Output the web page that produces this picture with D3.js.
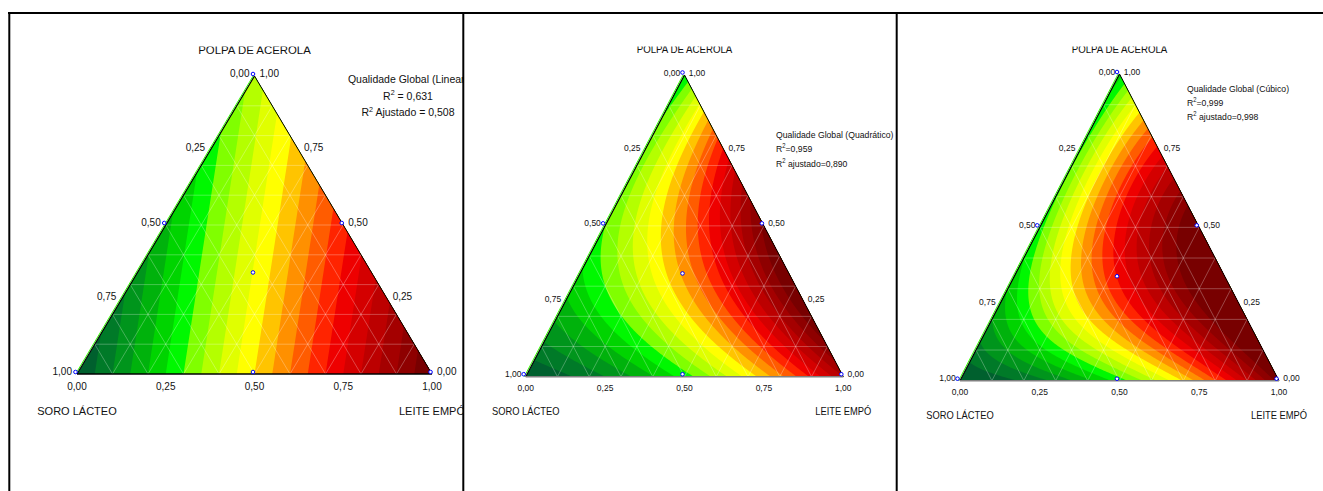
<!DOCTYPE html>
<html>
<head>
<meta charset="utf-8">
<script src="https://cdn.jsdelivr.net/npm/d3@7"></script>
<style>
html, body { margin: 0; padding: 0; background: #fff; }
svg { display: block; font-family: "Liberation Sans", Arial, sans-serif; }
</style>
</head>
<body>
<div id="chart"></div>
<script>
(function() {
'use strict';

const W = 1323;
const H = 491;

// mixture components: S (bottom-left), L (bottom-right), P (top)
const componentNames = ["SORO LÁCTEO", "LEITE EMPÓ", "POLPA DE ACEROLA"];
const tickValues = [0, 0.25, 0.5, 0.75, 1];
const tickLabels = ["0,00", "0,25", "0,50", "0,75", "1,00"];

// design points (soro, leite, polpa)
const designSoro  = [1, 0, 0, 0.5, 0.5, 0, 0.333];
const designLeite = [0, 1, 0, 0.5, 0, 0.5, 0.333];
const designPolpa = [0, 0, 1, 0, 0.5, 0.5, 0.334];

// Scheffé coefficients (in colour-band units): S, L, P, SL, SP, LP, SLP
const coefLinear    = [0, 20, 7.4, 0, 0, 0, 0];
const coefQuadratic = [0, 17, 5, -12, 14, 33, 0];
const coefCubic     = [0, 19.5, 4.5, -17, 13, 33, 80];

const modelNames  = ["Qualidade Global (Linear)", "Qualidade Global (Quadrático)", "Qualidade Global (Cúbico)"];
const r2Values    = ["0,631", "0,959", "0,999"];
const r2AdjValues = ["0,508", "0,890", "0,998"];

const levels = d3.range(1, 20);
const bandColors = ["#00602e", "#007a28", "#00951c", "#00b20c", "#00d400", "#00f800",
                    "#80ff00", "#b4ff00", "#e0ff00", "#ffff00", "#ffc400", "#ff9000",
                    "#ff5c00", "#ff2400", "#ee0000", "#d40000", "#bc0000", "#a40000",
                    "#8e0000", "#780000"];

const panels = [
  { coef: coefLinear, x0: 77, x1: 432, top: 76, base: 374, left: 10, right: 463,
    sx: 1, sy: 1, dot: [-1.5, -2], titleY: 53.5, tickY: 390, nameY: 415, edge: "#000",
    note: { x: 408, y: [82.5, 99.5, 116], anchor: "middle", size: 10.5, eq: " = ", adj: " Ajustado = " } },
  { coef: coefQuadratic, x0: 525.7, x1: 843.3, top: 75, base: 376.7, left: 464, right: 896,
    sx: 0.85, sy: 0.93, dot: [-2, -2.5], titleY: 52.5, tickY: 390.5, nameY: 415, edge: "#808080",
    note: { x: 776, y: [138, 152, 167], anchor: "start", size: 10.2, eq: "=", adj: " ajustado=" } },
  { coef: coefCubic, x0: 960, x1: 1279, top: 74, base: 380.7, left: 898, right: 1323,
    sx: 0.85, sy: 0.93, dot: [-2.5, -2], titleY: 52.5, tickY: 395, nameY: 419, edge: "#808080",
    note: { x: 1187, y: [92, 106, 120], anchor: "start", size: 10.2, eq: "=", adj: " ajustado=" } }
];

const svg = d3.select("#chart")
  .append("svg")
    .attr("width", W)
    .attr("height", H);

const defs = svg.append("defs");

function model(c, s, l, p) {
  return c[0] * s + c[1] * l + c[2] * p + c[3] * s * l + c[4] * s * p + c[5] * l * p + c[6] * s * l * p;
}

function addText(g, str, x, y, anchor, size, pn) {
  return g.append("text")
    .attr("transform", `translate(${x},${y}) scale(${pn.sx},${pn.sy})`)
    .attr("text-anchor", anchor)
    .attr("font-size", size)
    .attr("fill", "#111")
    .text(str);
}

function addR2(g, rest, x, y, anchor, size, pn) {
  const t = g.append("text")
    .attr("transform", `translate(${x},${y}) scale(${pn.sx},${pn.sy})`)
    .attr("text-anchor", anchor)
    .attr("font-size", size)
    .attr("fill", "#111");
  t.append("tspan").text("R");
  t.append("tspan").attr("dy", -4.5).attr("font-size", size * 0.68).text("2");
  t.append("tspan").attr("dy", 4.5).text(rest);
}

panels.forEach((pn, k) => {
  const xs = d3.scaleLinear().domain([0, 1]).range([pn.x0, pn.x1]);
  const ys = d3.scaleLinear().domain([0, 1]).range([pn.base, pn.top]);
  const pos = (s, l, p) => [xs(l + p / 2), ys(p)];

  defs.append("clipPath").attr("id", `panel-${k}`)
    .append("rect")
      .attr("x", pn.left).attr("y", 46.5)
      .attr("width", pn.right - pn.left).attr("height", H - 46.5);

  const corners = [pos(1, 0, 0), pos(0, 1, 0), pos(0, 0, 1)];
  const triPath = d3.line()(corners) + "Z";
  defs.append("clipPath").attr("id", `tri-${k}`)
    .append("path").attr("d", triPath);

  const g = svg.append("g").attr("clip-path", `url(#panel-${k})`);

  // surface
  const step = 1.5;
  const ox = pn.x0 - step, oy = pn.top - step;
  const nx = Math.ceil((pn.x1 - pn.x0) / step) + 3;
  const ny = Math.ceil((pn.base - pn.top) / step) + 3;
  const values = new Array(nx * ny);
  for (let j = 0; j < ny; j++) {
    for (let i = 0; i < nx; i++) {
      const p = ys.invert(oy + j * step);
      const l = xs.invert(ox + i * step) - p / 2;
      values[j * nx + i] = model(pn.coef, 1 - l - p, l, p);
    }
  }
  const contours = d3.contours().size([nx, ny]).thresholds(levels)(values);
  const path = d3.geoPath(d3.geoTransform({
    point: function(x, y) { this.stream.point(ox + (x - 0.5) * step, oy + (y - 0.5) * step); }
  }));

  const surf = g.append("g").attr("clip-path", `url(#tri-${k})`);
  surf.append("path").attr("d", triPath).attr("fill", bandColors[0]);
  surf.selectAll("path.band")
    .data(contours)
    .enter()
    .append("path")
      .attr("class", "band")
      .attr("d", path)
      .attr("fill", (d) => bandColors[levels.indexOf(d.value) + 1]);

  // grid
  const grid = d3.range(1, 10).map((i) => i / 10);
  const gridLines = [];
  grid.forEach((v) => {
    gridLines.push([pos(1 - v, 0, v), pos(0, 1 - v, v)]);
    gridLines.push([pos(1 - v, v, 0), pos(0, v, 1 - v)]);
    gridLines.push([pos(v, 1 - v, 0), pos(v, 0, 1 - v)]);
  });
  surf.selectAll("path.grid")
    .data(gridLines)
    .enter()
    .append("path")
      .attr("class", "grid")
      .attr("d", (d) => d3.line()(d))
      .attr("stroke", "rgba(255,255,255,0.35)")
      .attr("stroke-width", 0.8)
      .attr("fill", "none");

  // edges
  g.append("path").attr("d", d3.line()([corners[0], corners[2]]))
    .attr("transform", "translate(-1.4,0)")
    .attr("stroke", "#33ff00").attr("stroke-width", 1).attr("fill", "none");
  g.append("path").attr("d", d3.line()([corners[0], corners[2]]))
    .attr("stroke", "#000").attr("stroke-width", 1.2).attr("fill", "none");
  g.append("path").attr("d", d3.line()([corners[2], corners[1]]))
    .attr("stroke", "#000").attr("stroke-width", 1).attr("fill", "none");
  g.append("path").attr("d", d3.line()([corners[0], corners[1]]))
    .attr("stroke", pn.edge).attr("stroke-width", 1.5).attr("fill", "none");

  // tick labels
  const off = 5 * pn.sx;
  tickValues.forEach((t, i) => {
    const b = pos(1 - t, t, 0);
    addText(g, tickLabels[i], b[0], pn.tickY, "middle", 10, pn);
    const le = pos(t, 0, 1 - t);
    addText(g, tickLabels[i], le[0] - off, le[1] + 0.5, "end", 10, pn);
    const ri = pos(0, 1 - t, t);
    addText(g, tickLabels[i], ri[0] + off, ri[1] + 0.5, "start", 10, pn);
  });

  // component names
  addText(g, componentNames[0], corners[0][0], pn.nameY, "middle", 11, pn);
  addText(g, componentNames[1], corners[1][0], pn.nameY, "middle", 11, pn);
  addText(g, componentNames[2], corners[2][0], pn.titleY, "middle", 11.4, pn);

  // design points
  g.selectAll("circle")
    .data(designSoro.map((s, i) => [s, designLeite[i], designPolpa[i]]))
    .enter()
    .append("circle")
      .attr("cx", (d) => pos(d[0], d[1], d[2])[0] + pn.dot[0])
      .attr("cy", (d) => pos(d[0], d[1], d[2])[1] + pn.dot[1])
      .attr("r", 1.8)
      .attr("fill", "#fff")
      .attr("stroke", "#0000ff")
      .attr("stroke-width", 1);

  // model note
  const nt = pn.note;
  addText(g, modelNames[k], nt.x, nt.y[0], nt.anchor, nt.size, pn);
  addR2(g, nt.eq + r2Values[k], nt.x, nt.y[1], nt.anchor, nt.size, pn);
  addR2(g, nt.adj + r2AdjValues[k], nt.x, nt.y[2], nt.anchor, nt.size, pn);
});

// frame
const frame = [
  [[8, 13], [W, 13]],
  [[9.3, 12], [9.3, H]],
  [[463.3, 12], [463.3, H]],
  [[896.7, 12], [896.7, H]]
];
svg.selectAll("path.frame")
  .data(frame)
  .enter()
  .append("path")
    .attr("class", "frame")
    .attr("d", (d) => d3.line()(d))
    .attr("stroke", "#000")
    .attr("stroke-width", 2)
    .attr("fill", "none");

})();
</script>
</body>
</html>
